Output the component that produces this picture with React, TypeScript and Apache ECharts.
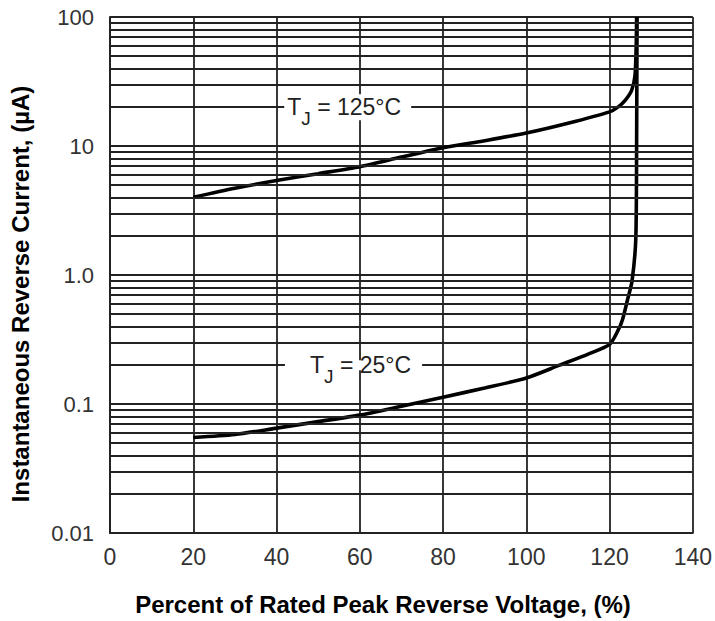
import React, { useEffect, useRef } from "react";
import * as echarts from "echarts";

// Percent of rated peak reverse voltage (%) and current (µA)
const voltage125 = [20, 30, 40, 50, 60, 70, 80, 90, 100, 110, 120, 122, 123.8, 125.3, 126.1, 126.4, 126.5];
const current125 = [4.0, 4.7, 5.4, 6.1, 6.9, 8.2, 9.7, 11, 12.6, 15, 18.4, 20, 22.7, 27, 35, 60, 100];

const voltage25 = [20, 30, 40, 50, 60, 70, 80, 90, 100, 108, 115, 120, 122, 123.1, 124.3, 125.4, 126.3, 126.5, 126.6];
const current25 = [0.055, 0.058, 0.065, 0.073, 0.082, 0.096, 0.113, 0.133, 0.159, 0.2, 0.245, 0.29, 0.37, 0.45, 0.64, 0.9, 1.9, 10, 100];

const yTickLabels = ["0.01", "0.1", "1.0", "10", "100"];
const decades = [0.01, 0.1, 1, 10];
const minorMultipliers = [2, 3, 4, 5, 6, 7, 8, 9];

const curveLabels = ["125°C", "25°C"];
const labelAnchorsX = [57.1, 58.5];
const labelAnchorsY = [20, 0.2];

const xTitle = "Percent of Rated Peak Reverse Voltage, (%)";
const yTitle = "Instantaneous Reverse Current, (µA)";

const TICK_FONT = '"Liberation Sans", Arial, sans-serif';
const GRID_COLOR = "#222222";
const GRID_WIDTH = 1.8;

export default function App() {
  const ref = useRef<HTMLDivElement>(null);

  useEffect(() => {
    if (!ref.current) return;
    const chart = echarts.init(ref.current, null, { renderer: "svg" });

    const minorValues: number[] = [];
    decades.forEach((d) => minorMultipliers.forEach((m) => minorValues.push(+(d * m).toPrecision(3))));

    const pair = (xs: number[], ys: number[]) => xs.map((x, i) => [x, ys[i]]);

    const makeLabel = (i: number) => ({
      coord: [labelAnchorsX[i], labelAnchorsY[i]],
      label: {
        show: true,
        position: "inside",
        formatter: `{t|T}{s|J}{t| = ${curveLabels[i]}}`,
        backgroundColor: "#ffffff",
        padding: i === 0 ? [0, 10, 0, 3] : [-8, 11, -8, 25],
        rich: {
          t: { fontSize: 23, fontFamily: TICK_FONT, color: "#222", lineHeight: 26 },
          s: { fontSize: 19, fontFamily: TICK_FONT, color: "#222", lineHeight: 19, padding: [22, 0, 0, 0] },
        },
      },
    });

    chart.setOption({
      animation: false,
      backgroundColor: "#ffffff",
      grid: { left: 110, right: 17, top: 17, bottom: 88, containLabel: false },
      xAxis: {
        type: "value",
        min: 0,
        max: 140,
        interval: 20,
        axisLine: { show: true, lineStyle: { color: GRID_COLOR, width: GRID_WIDTH } },
        axisTick: { show: false },
        axisLabel: { margin: 12, fontSize: 23, fontFamily: TICK_FONT, color: "#333" },
        splitLine: { show: true, lineStyle: { color: GRID_COLOR, width: GRID_WIDTH } },
      },
      yAxis: {
        type: "log",
        logBase: 10,
        min: 0.01,
        max: 100,
        axisLine: { show: true, lineStyle: { color: GRID_COLOR, width: GRID_WIDTH } },
        axisTick: { show: false },
        axisLabel: {
          margin: 16,
          fontSize: 22,
          fontFamily: TICK_FONT,
          color: "#333",
          formatter: (v: number) => yTickLabels[Math.round(Math.log10(v)) + 2] ?? "",
        },
        splitLine: { show: true, lineStyle: { color: GRID_COLOR, width: GRID_WIDTH } },
      },
      graphic: [
        {
          type: "text",
          x: 383,
          y: 604,
          style: {
            text: xTitle,
            font: `bold 24px ${TICK_FONT}`,
            fill: "#000",
            align: "center",
            verticalAlign: "middle",
          },
        },
        {
          type: "text",
          x: 20,
          y: 294,
          rotation: Math.PI / 2,
          style: {
            text: yTitle,
            font: `bold 24px ${TICK_FONT}`,
            fill: "#000",
            align: "center",
            verticalAlign: "middle",
          },
        },
      ],
      series: [
        {
          name: "grid",
          type: "line",
          data: [],
          z: 1,
          silent: true,
          markLine: {
            silent: true,
            symbol: ["none", "none"],
            label: { show: false },
            lineStyle: { color: GRID_COLOR, width: GRID_WIDTH, type: "solid" },
            emphasis: { disabled: true },
            data: minorValues.map((v) => ({ yAxis: v })),
          },
        },
        {
          name: "labels",
          type: "line",
          data: [],
          z: 2,
          silent: true,
          markPoint: {
            symbol: "rect",
            symbolSize: 1,
            itemStyle: { color: "rgba(0,0,0,0)" },
            data: [makeLabel(0), makeLabel(1)],
          },
        },
        {
          name: "TJ = 125°C",
          type: "line",
          z: 3,
          data: pair(voltage125, current125),
          showSymbol: false,
          smooth: 0.25,
          lineStyle: { color: "#000", width: 3.6 },
        },
        {
          name: "TJ = 25°C",
          type: "line",
          z: 3,
          data: pair(voltage25, current25),
          showSymbol: false,
          smooth: 0.25,
          lineStyle: { color: "#000", width: 3.6 },
        },
      ],
    });

    return () => chart.dispose();
  }, []);

  return (
    <div
      ref={ref}
      style={{ position: "fixed", left: 0, top: 0, width: 715, height: 621, background: "#fff" }}
    />
  );
}
